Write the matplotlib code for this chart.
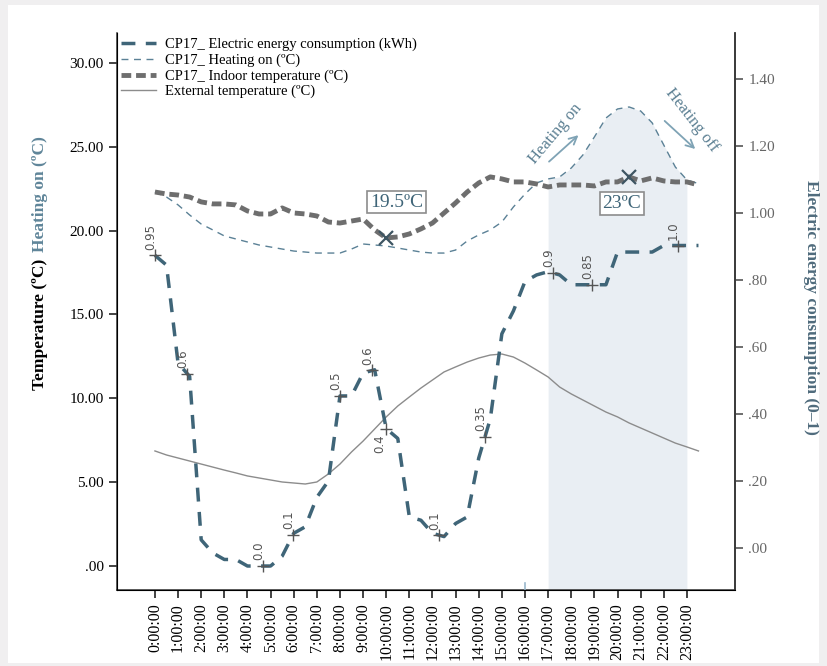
import numpy as np
import matplotlib
matplotlib.use('Agg')
import matplotlib.pyplot as plt
from matplotlib.patches import Rectangle

plt.rcParams['font.family'] = ['Liberation Serif', 'DejaVu Serif']

# half-hour samples, 0:00 .. 23:30
hours = np.arange(48) * 0.5

# CP17 electric energy consumption (0-1)
energy = [0.95, 0.92, 0.62, 0.58, 0.08, 0.04, 0.02, 0.02, 0.00, 0.00, 0.00, 0.03,
          0.10, 0.12, 0.21, 0.26, 0.52, 0.52, 0.59, 0.60, 0.42, 0.39, 0.15, 0.14,
          0.10, 0.09, 0.13, 0.15, 0.33, 0.45, 0.71, 0.78, 0.87, 0.89, 0.90, 0.89,
          0.86, 0.86, 0.86, 0.86, 0.96, 0.96, 0.96, 0.96, 0.98, 0.98, 0.98, 0.98]

# CP17 heating on (C)
heating = [22.30, 22.00, 21.53, 20.93, 20.39, 20.04, 19.68, 19.50, 19.32, 19.14, 19.02, 18.90,
           18.78, 18.72, 18.66, 18.66, 18.66, 18.90, 19.20, 19.14, 19.08, 18.96, 18.84, 18.72,
           18.66, 18.66, 18.84, 19.38, 19.74, 20.04, 20.51, 21.41, 22.18, 22.84, 23.08, 23.20,
           23.73, 24.50, 25.58, 26.71, 27.25, 27.37, 27.13, 26.42, 25.10, 23.79, 23.02, 22.80]

# CP17 indoor temperature (C)
indoor = [22.30, 22.18, 22.12, 22.00, 21.71, 21.59, 21.59, 21.53, 21.17, 20.99, 20.99, 21.35,
          21.05, 20.99, 20.87, 20.51, 20.45, 20.57, 20.69, 20.04, 19.56, 19.62, 19.80, 20.10,
          20.45, 21.05, 21.65, 22.30, 22.84, 23.20, 23.08, 22.90, 22.90, 22.78, 22.60, 22.72,
          22.72, 22.72, 22.66, 22.90, 22.90, 23.20, 22.96, 23.14, 22.96, 22.90, 22.90, 22.72]

# external temperature (C)
external = [6.86, 6.62, 6.44, 6.26, 6.08, 5.90, 5.72, 5.55, 5.37, 5.25, 5.13, 5.01,
            4.95, 4.89, 5.01, 5.49, 6.08, 6.80, 7.45, 8.17, 8.89, 9.54, 10.08, 10.61,
            11.09, 11.57, 11.87, 12.16, 12.40, 12.58, 12.64, 12.46, 12.10, 11.69, 11.27, 10.67,
            10.26, 9.90, 9.54, 9.18, 8.89, 8.53, 8.23, 7.93, 7.63, 7.33, 7.10, 6.86]

# data labels on the energy line
label_hours = [0.0, 1.4, 4.67, 5.97, 8.0, 9.4, 10.0, 12.3, 14.27, 17.2, 18.9, 22.6]
label_text = ['0.95', '0.6', '0.0', '0.1', '0.5', '0.6', '0.4', '0.1', '0.35', '0.9', '0.85', '1.0']

tick_labels = ['%d:00:00' % h for h in range(24)]
left_ticks = [0, 5, 10, 15, 20, 25, 30]
right_ticks = [0.0, 0.2, 0.4, 0.6, 0.8, 1.0, 1.2, 1.4]

E_SCALE = 19.5  # energy drawn against the temperature scale

def spss(v):
    s = '%.2f' % v
    return s[1:] if s.startswith('0') else s

fig = plt.figure(figsize=(8.27, 6.66), dpi=100)
fig.patch.set_facecolor('#f0eff0')
fig.patches.append(Rectangle((8/827, 3/666), 811/827, 658/666, transform=fig.transFigure,
                             facecolor='white', edgecolor='none', zorder=-10))

ax = fig.add_axes([117/827, 1-590/666, (735-117)/827, (590-33)/666])
ax.set_facecolor('none')
ax.set_xlim(-1.64, 25.08)
ax.set_ylim(-1.43, 31.78)

hours_arr = np.array(hours)
heat_arr = np.array(heating)
mask = (hours_arr >= 17) & (hours_arr <= 23)
ax.fill_between(hours_arr[mask], -1.43, heat_arr[mask], color='#e9eef3', lw=0, zorder=0)

l1, = ax.plot(hours, np.array(energy)*E_SCALE, color='#3f6578', lw=2.5, dashes=(4, 3),
              label='CP17_ Electric energy consumption (kWh)', zorder=3)
l2, = ax.plot(hours, heating, color='#5b8196', lw=1.0, dashes=(5, 4),
              label='CP17_ Heating on (ºC)', zorder=2)
l3, = ax.plot(hours, indoor, color='#6e6e6e', lw=3.5, dashes=(2, 1),
              label='CP17_ Indoor temperature (ºC)', zorder=4)
l4, = ax.plot(hours, external, color='#8c8c8c', lw=1.0,
              label='External temperature (ºC)', zorder=2)

# data labels
for h, t in zip(label_hours, label_text):
    y = np.interp(h, hours, energy) * E_SCALE
    ax.plot(h, y, marker='+', ms=8, mew=1.0, color='#555555', zorder=5)
    if t == '0.4':
        ax.annotate(t, (h, y), xytext=(-5, -4), textcoords='offset points', rotation=90,
                    ha='center', va='top', fontsize=8.5, color='#555555', family='DejaVu Sans')
    else:
        ax.annotate(t, (h, y), xytext=(-3, 4), textcoords='offset points', rotation=90,
                    ha='center', va='bottom', fontsize=8.5, color='#555555', family='DejaVu Sans')

# markers and boxed temperatures
ax.plot([10.0, 20.5], [19.56, 23.2], ls='none', marker='x', ms=10, mew=1.6,
        color='#3e5562', zorder=6)
box = dict(boxstyle='square,pad=0.15', facecolor='white', edgecolor='#8c8c8c', lw=1.2)
ax.text(10.46, 21.7, '19.5ºC', fontsize=14, color='#3f6578', ha='center', va='center', bbox=box, zorder=7)
ax.text(20.19, 21.59, '23ºC', fontsize=14, color='#3f6578', ha='center', va='center', bbox=box, zorder=7)

# heating on / off notes
ax.text(17.3, 25.8, 'Heating on', rotation=50, fontsize=12, color='#5b7f92', ha='center', va='center')
ax.annotate('', xy=(18.4, 25.8), xytext=(16.95, 24.0),
            arrowprops=dict(arrowstyle='->', color='#7fa3b5', lw=1.3, mutation_scale=14))
ax.text(23.2, 26.6, 'Heating off', rotation=-52, fontsize=12, color='#5b7f92', ha='center', va='center')
ax.annotate('', xy=(23.45, 24.75), xytext=(21.95, 26.65),
            arrowprops=dict(arrowstyle='->', color='#7fa3b5', lw=1.3, mutation_scale=14))

# small mark at 16:00
ax.plot([16, 16], [-1.43, -1.0], color='#9ab8cc', lw=1.2, zorder=5)

ax.set_xticks(range(24))
ax.set_xticklabels(tick_labels, rotation=90, fontsize=11.5)
ax.set_yticks(left_ticks)
ax.set_yticklabels([spss(v) for v in left_ticks], fontsize=11)
ax.tick_params(axis='both', direction='out', length=6, width=1.2, color='#222222')
ax.spines['top'].set_visible(False)
for s in ['left', 'bottom', 'right']:
    ax.spines[s].set_color('#333333')
    ax.spines[s].set_linewidth(1.1)

ax2 = ax.twinx()
ax2.set_ylim((548-590)/335, (548-33)/335)
ax2.set_yticks(right_ticks)
ax2.set_yticklabels([spss(v) for v in right_ticks], fontsize=11, color='#666666')
ax2.tick_params(axis='y', direction='out', length=6, width=1.2, color='#555555')
ax2.spines['top'].set_visible(False)
ax2.spines['right'].set_color('#333333')
ax2.spines['right'].set_linewidth(1.1)

# y labels
fig.text(40/827, 1-390/666, 'Temperature (ºC)', rotation=90, ha='center', va='bottom',
         fontsize=12.5, fontweight='bold', color='black')
fig.text(40/827, 1-252/666, 'Heating on (ºC)', rotation=90, ha='center', va='bottom',
         fontsize=12.5, fontweight='bold', color='#5f8599')
fig.text(811/827, 1-307/666, 'Electric energy consumption (0–1)', rotation=270, ha='center',
         va='center', fontsize=12.5, fontweight='bold', color='#4f6b7c')

fig.legend(handles=[l1, l2, l3, l4], loc='upper left', bbox_to_anchor=(121/827, 1-38/666),
           bbox_transform=fig.transFigure, frameon=False, fontsize=10.5, handlelength=2.4,
           handletextpad=0.6, labelspacing=0.15, borderpad=0, borderaxespad=0)

fig.savefig('out.png', dpi=100, facecolor=fig.get_facecolor())
